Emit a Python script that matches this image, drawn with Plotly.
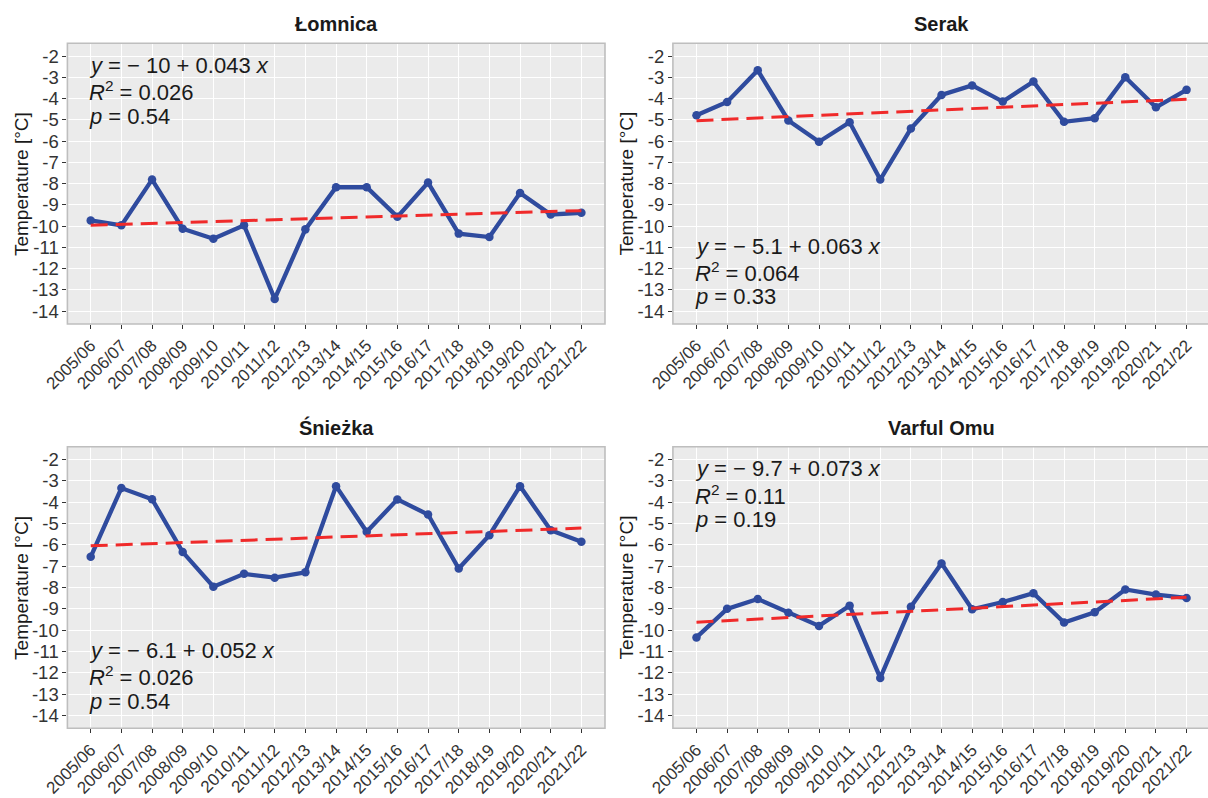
import plotly.graph_objects as go

# Winter seasons on the x axis
seasons = ["2005/06", "2006/07", "2007/08", "2008/09", "2009/10", "2010/11",
           "2011/12", "2012/13", "2013/14", "2014/15", "2015/16", "2016/17",
           "2017/18", "2018/19", "2019/20", "2020/21", "2021/22"]

# Mean winter temperature per station [°C]
lomnica = [-9.73, -9.96, -7.81, -10.12, -10.59, -9.96, -13.42, -10.15, -8.17,
           -8.17, -9.56, -7.95, -10.35, -10.51, -8.44, -9.45, -9.37]
serak = [-4.78, -4.16, -2.67, -5.03, -6.03, -5.11, -7.81, -5.41, -3.83,
         -3.38, -4.14, -3.20, -5.09, -4.92, -3.00, -4.41, -3.59]
sniezka = [-6.56, -3.34, -3.86, -6.34, -7.96, -7.36, -7.54, -7.29, -3.25,
           -5.39, -3.87, -4.58, -7.11, -5.55, -3.25, -5.32, -5.86]
varful_omu = [-10.34, -9.00, -8.54, -9.18, -9.80, -8.85, -12.24, -8.90, -6.87,
              -9.02, -8.68, -8.27, -9.64, -9.16, -8.09, -8.33, -8.49]

# Linear trend y = a + b*x (x = 1..17) with fit statistics
stations = ["Łomnica", "Serak", "Śnieżka", "Varful Omu"]
intercepts = [-10, -5.1, -6.1, -9.7]
intercept_labels = ["10", "5.1", "6.1", "9.7"]
slopes = [0.043, 0.063, 0.052, 0.073]
r_squared = ["0.026", "0.064", "0.026", "0.11"]
p_values = ["0.54", "0.33", "0.54", "0.19"]
label_at_top = [True, False, False, True]

# y axis ticks
y_tick_vals = [-2, -3, -4, -5, -6, -7, -8, -9, -10, -11, -12, -13, -14]
y_tick_text = ["-2", "-3", "-4", "-5", "-6", "-7", "-8", "-9", "-10", "-11",
               "-12", "-13", "-14"]

series = [lomnica, serak, sniezka, varful_omu]

W, H = 1208, 798
BLUE = "#2F4B9E"
RED = "#F02A2A"
FONT = "Liberation Sans, Arial, sans-serif"

# panel boxes in pixels: (left, right, top, bottom)
panels = [
    (67.4, 605.0, 43.3, 324.0),
    (672.9, 1210.0, 43.3, 324.0),
    (67.4, 605.0, 446.7, 728.3),
    (672.9, 1210.0, 446.7, 728.3),
]
x_ranges = [[-0.76, 16.77], [-0.77, 16.70], [-0.76, 16.77], [-0.77, 16.70]]
Y_RANGE = [-14.6, -1.4]

fig = go.Figure()
idx = list(range(len(seasons)))

for i, (name, vals) in enumerate(zip(stations, series)):
    n = i + 1
    xa = "x" if n == 1 else f"x{n}"
    ya = "y" if n == 1 else f"y{n}"
    left, right, top, bottom = panels[i]
    x0 = left / W
    x1 = min(right / W, 1.0)
    y0 = 1 - bottom / H
    y1 = 1 - top / H

    trend = [intercepts[i] + slopes[i] * (k + 1) for k in idx]

    fig.add_trace(go.Scatter(
        x=idx, y=vals, xaxis=xa, yaxis=ya, mode="lines+markers",
        line=dict(color=BLUE, width=4.3), marker=dict(color=BLUE, size=8.5),
        showlegend=False, hoverinfo="skip"))
    fig.add_trace(go.Scatter(
        x=idx, y=trend, xaxis=xa, yaxis=ya, mode="lines",
        line=dict(color=RED, width=3, dash="17px,8px"),
        showlegend=False, hoverinfo="skip"))

    axis_common = dict(showgrid=True, gridcolor="white", gridwidth=1.3,
                       zeroline=False, showline=False, ticks="outside",
                       ticklen=4, tickwidth=1, tickcolor="#333333",
                       automargin=False)
    fig.update_layout(**{
        ("xaxis" if n == 1 else f"xaxis{n}"): dict(
            domain=[x0, x1], anchor=ya, range=x_ranges[i],
            tickvals=idx, ticktext=seasons, tickangle=-45,
            tickfont=dict(family=FONT, size=17, color="#333333"),
            **axis_common),
        ("yaxis" if n == 1 else f"yaxis{n}"): dict(
            domain=[y0, y1], anchor=xa, range=Y_RANGE,
            tickvals=y_tick_vals, ticktext=y_tick_text,
            tickfont=dict(family=FONT, size=18.5, color="#333333"),
            **axis_common),
    })

    # panel border (right panels run off the page edge)
    fig.add_shape(type="rect", xref=f"{xa} domain", yref=f"{ya} domain",
                  x0=0, x1=1 if x1 < 1 else 1.02, y0=0, y1=1,
                  line=dict(color="#BEBEBE", width=1.6), layer="above")

    # panel title
    fig.add_annotation(text=f"<b>{name}</b>", xref="paper", yref="paper",
                       x=(left + right) / 2 / W, y=1 - (top - 19) / H,
                       showarrow=False, xanchor="center", yanchor="middle",
                       font=dict(family=FONT, size=20, color="#1a1a1a"))
    # y axis title
    fig.add_annotation(text="Temperature [°C]", xref="paper", yref="paper",
                       x=(left - 46) / W, y=1 - (top + bottom) / 2 / H,
                       textangle=-90, showarrow=False,
                       xanchor="center", yanchor="middle",
                       font=dict(family=FONT, size=19, color="#1a1a1a"))

    # regression labels
    lines = [
        f"<i>y</i> = − {intercept_labels[i]} + {slopes[i]} <i>x</i>",
        f"<i>R</i><sup>2</sup> = {r_squared[i]}",
        f"<i>p</i> = {p_values[i]}",
    ]
    ys = [-2.43, -3.66, -4.83] if label_at_top[i] else [-10.96, -12.16, -13.33]
    for txt, yy in zip(lines, ys):
        fig.add_annotation(text=txt, xref=xa, yref=ya, x=-0.08, y=yy,
                           showarrow=False, xanchor="left", yanchor="middle",
                           borderpad=0,
                           font=dict(family=FONT, size=22, color="#1a1a1a"))

fig.update_layout(
    width=W, height=H, margin=dict(l=0, r=0, t=0, b=0),
    paper_bgcolor="white", plot_bgcolor="#EBEBEB",
    font=dict(family=FONT),
)

fig.write_html("out.html")
